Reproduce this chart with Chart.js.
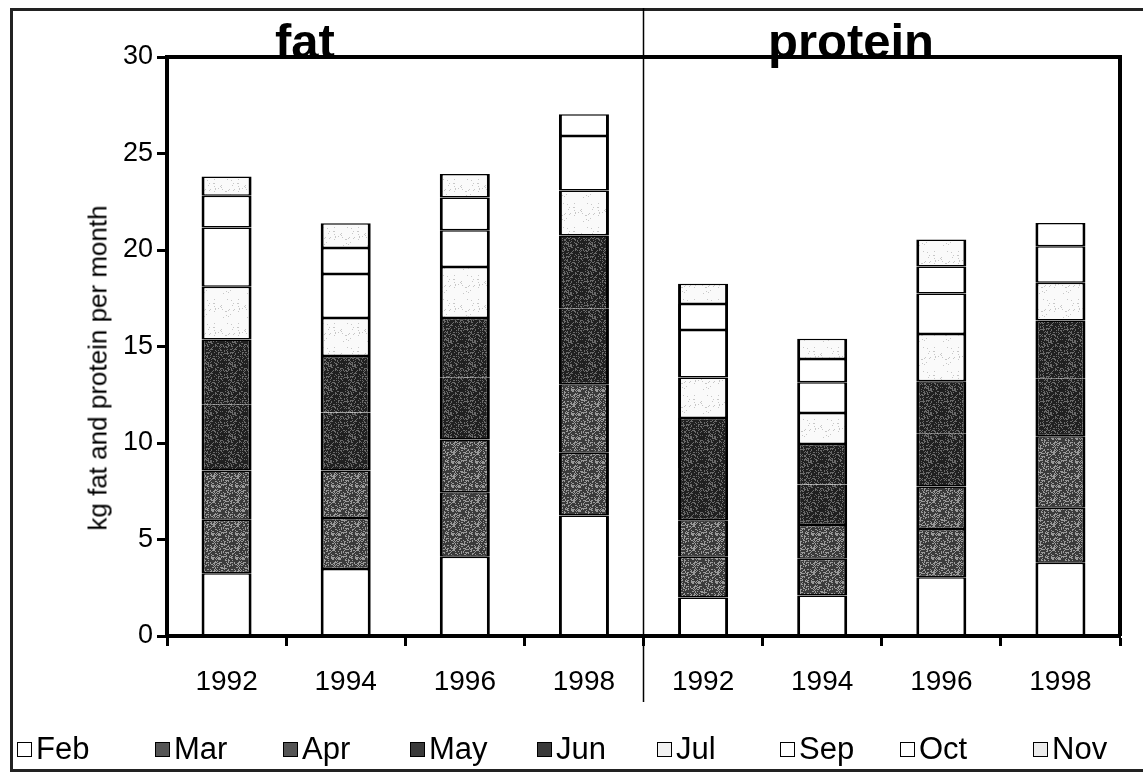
<!DOCTYPE html>
<html>
<head>
<meta charset="utf-8">
<script src="https://cdn.jsdelivr.net/npm/chart.js@4.4.0/dist/chart.umd.min.js"></script>
<style>
  html, body { margin: 0; padding: 0; background: #fff; overflow: hidden; }
  #wrap { position: relative; width: 1143px; height: 778px; font-family: "Liberation Sans", Arial, sans-serif; }
  #frame { position: absolute; left: 10px; top: 8px; width: 1170px; height: 764px; border: 3px solid #222; box-sizing: border-box; }
  canvas { position: absolute; left: 0; top: 0; }
  .ttl { position: absolute; font-weight: bold; font-size: 49px; color: #000; line-height: 1; transform: translateX(-50%); }
  #ytitle { position: absolute; left: 98px; top: 368px; font-size: 26px; color: #000; white-space: nowrap;
            transform: translate(-50%, -50%) rotate(-90deg); }
  #legend { position: absolute; left: 0; top: 731px; width: 1200px; height: 36px; }
  .item { position: absolute; top: 0; display: flex; align-items: center; font-size: 31px; color: #000; line-height: 36px; }
  .sw { width: 15px; height: 15px; border: 1.5px solid #000; margin-right: 4px; box-sizing: border-box; }
</style>
</head>
<body>
<div id="wrap">
  <div id="frame"></div>
  <canvas id="chart" width="1143" height="778"></canvas>
  <div class="ttl" style="left:305px; top:17px;">fat</div>
  <div class="ttl" style="left:851px; top:17px;">protein</div>
  <div id="ytitle">kg fat and protein per month</div>
  <div id="legend"></div>
</div>
<script>
// categories: four years for fat, then the same four for protein
const years = ['1992', '1994', '1996', '1998'];
const categories = years.concat(years);

// kg per month (fat 92-98, protein 92-98)
const feb = [3.25, 3.47, 4.11, 6.24, 2.0, 2.1, 3.05, 3.8];
const mar = [2.77, 2.64, 3.34, 3.25, 2.1, 1.9, 2.5, 2.85];
const apr = [2.56, 2.47, 2.73, 3.56, 1.9, 1.75, 2.2, 3.7];
const may = [3.4, 3.0, 3.2, 3.9, 2.7, 2.1, 2.75, 3.0];
const jun = [3.38, 2.93, 3.1, 3.8, 2.6, 2.1, 2.7, 3.0];
const jul = [2.74, 1.97, 2.64, 2.33, 2.1, 1.6, 2.45, 1.95];
const sep = [3.07, 2.28, 1.90, 2.83, 2.45, 1.6, 2.1, 1.9];
const oct = [1.64, 1.35, 1.70, 1.13, 1.35, 1.2, 1.4, 1.2];
const nov = [1.0, 1.28, 1.22, null, 1.05, 1.05, 1.4, null];

const yTicks = [0, 5, 10, 15, 20, 25, 30];

// legend slots (left edge of each swatch)
const legendX = [17, 155, 283, 410, 537, 657, 780, 900, 1033];

// speckled fills like the scanned original (fixed seed so it always looks the same)
function speckle(base, dot, density, seed) {
    const c = document.createElement('canvas');
    c.width = 24; c.height = 24;
    const g = c.getContext('2d');
    g.fillStyle = base;
    g.fillRect(0, 0, 24, 24);
    g.fillStyle = dot;
    let s = seed;
    for (let i = 0; i < 24 * 24; i++) {
        s = (s * 1103515245 + 12345) & 0x7fffffff;
        if ((s % 1000) / 1000 < density) {
            g.fillRect(i % 24, Math.floor(i / 24), 1, 1);
        }
    }
    return g.createPattern(c, 'repeat');
}

const fills = {
    white: '#ffffff',
    light: speckle('#fafafa', '#c8c8c8', 0.05, 7),
    grey: speckle('#3a3a3a', '#9a9a9a', 0.35, 11),
    dark: speckle('#202020', '#6a6a6a', 0.25, 3)
};

// May and Jun share the dark fill and show no line between them
const series = [
    { label: 'Feb', data: feb, fill: 'white', css: '#fff', top: 1.5, bottom: 1.5 },
    { label: 'Mar', data: mar, fill: 'grey', css: '#555', top: 1.5, bottom: 1.5 },
    { label: 'Apr', data: apr, fill: 'grey', css: '#555', top: 1.5, bottom: 1.5 },
    { label: 'May', data: may, fill: 'dark', css: '#3a3a3a', top: 0, bottom: 1.5 },
    { label: 'Jun', data: jun, fill: 'dark', css: '#3a3a3a', top: 1.5, bottom: 0 },
    { label: 'Jul', data: jul, fill: 'light', css: '#f2f2f2', top: 1.5, bottom: 1.5 },
    { label: 'Sep', data: sep, fill: 'white', css: '#fff', top: 1.5, bottom: 1.5 },
    { label: 'Oct', data: oct, fill: 'white', css: '#fff', top: 1.5, bottom: 1.5 },
    { label: 'Nov', data: nov, fill: 'light', css: '#ececec', top: 1.5, bottom: 1.5 }
];

const datasets = series.map(s => ({
    label: s.label,
    data: s.data,
    backgroundColor: fills[s.fill],
    borderColor: '#000',
    borderWidth: { top: s.top, bottom: s.bottom, left: 3, right: 3 },
    borderSkipped: false,
    barPercentage: 0.84,
    categoryPercentage: 0.5
}));

// thick frame round the plot and the thin line between fat and protein
const framePlugin = {
    id: 'framePlugin',
    afterDraw(chart) {
        const ctx = chart.ctx;
        const a = chart.chartArea;
        const xs = chart.scales.x;
        ctx.save();
        ctx.strokeStyle = '#000';
        ctx.lineWidth = 4;
        ctx.beginPath();
        ctx.moveTo(a.left, a.top);
        ctx.lineTo(a.right, a.top);
        ctx.lineTo(a.right, a.bottom);
        ctx.stroke();
        const mid = (xs.getPixelForValue(3) + xs.getPixelForValue(4)) / 2;
        ctx.lineWidth = 1.5;
        ctx.beginPath();
        ctx.moveTo(mid, 8);
        ctx.lineTo(mid, a.bottom + 66);
        ctx.stroke();
        ctx.restore();
    }
};

new Chart(document.getElementById('chart'), {
    type: 'bar',
    data: { labels: categories, datasets: datasets },
    options: {
        responsive: false,
        animation: false,
        layout: { padding: { top: 57, right: 23, bottom: 0, left: 0 } },
        plugins: {
            legend: { display: false },
            tooltip: { enabled: false }
        },
        scales: {
            x: {
                stacked: true,
                ticks: { color: '#000', font: { family: '"Liberation Sans", Arial', size: 28 }, padding: 19 },
                grid: { offset: true, drawOnChartArea: false, tickLength: 10, tickWidth: 3, color: '#000' },
                border: { width: 4, color: '#000' },
                afterFit(s) { s.height = 142; }
            },
            y: {
                stacked: true,
                min: 0,
                max: 30,
                afterBuildTicks(s) { s.ticks = yTicks.map(v => ({ value: v })); },
                ticks: { color: '#000', font: { family: '"Liberation Sans", Arial', size: 27 }, padding: 4 },
                grid: { drawOnChartArea: false, tickLength: 10, tickWidth: 3, color: '#000' },
                border: { width: 4, color: '#000' },
                afterFit(s) { s.width = 167; }
            }
        }
    },
    plugins: [framePlugin]
});

// legend in the same row layout as the original
const legend = document.getElementById('legend');
series.forEach((s, i) => {
    const it = document.createElement('div');
    it.className = 'item';
    it.style.left = legendX[i] + 'px';
    it.innerHTML = '<span class="sw" style="background:' + s.css + '"></span>' + s.label;
    legend.appendChild(it);
});
</script>
</body>
</html>
